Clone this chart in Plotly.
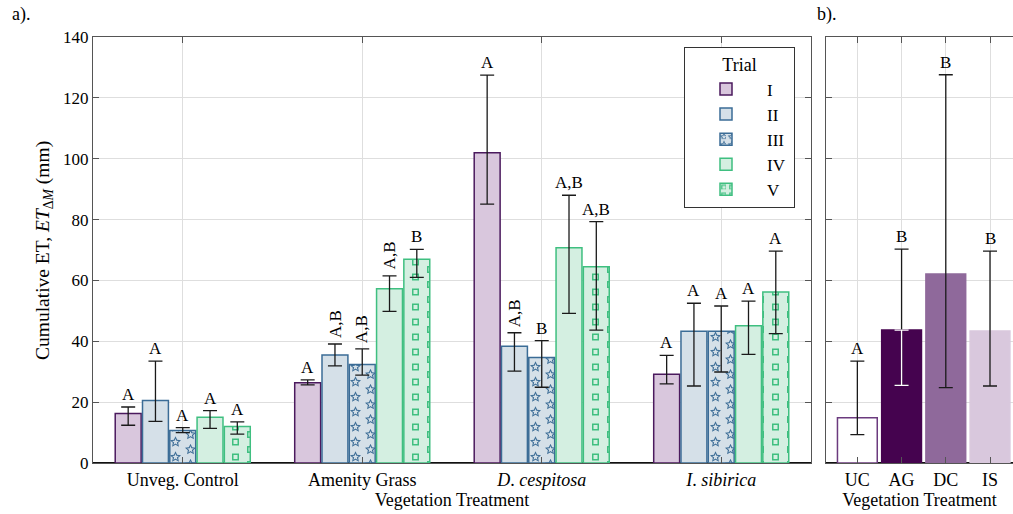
import math
import plotly.graph_objects as go

# ---------------- data ----------------
categories = ["Unveg. Control", "Amenity Grass", "<i>D</i>. <i>cespitosa</i>", "<i>I</i>. <i>sibirica</i>"]
trials = ["I", "II", "III", "IV", "V"]

mean_I = [16.3, 26.4, 102.0, 29.2]
mean_II = [20.5, 35.5, 38.4, 43.3]
mean_III = [10.7, 32.4, 34.7, 43.3]
mean_IV = [15.0, 57.3, 70.7, 45.1]
mean_V = [12.0, 67.0, 64.5, 56.2]

upper_I = [18.4, 27.3, 127.5, 35.4]
upper_II = [33.5, 39.1, 42.8, 52.5]
upper_III = [11.6, 37.5, 40.2, 51.6]
upper_IV = [17.2, 61.5, 88.0, 53.2]
upper_V = [13.5, 70.2, 79.3, 69.6]

lower_I = [12.4, 25.7, 85.1, 26.0]
lower_II = [13.7, 31.9, 30.2, 25.3]
lower_III = [10.0, 28.9, 24.9, 29.9]
lower_IV = [11.4, 49.8, 49.2, 35.7]
lower_V = [9.5, 61.0, 43.7, 42.5]

letters_I = ["A", "A", "A", "A"]
letters_II = ["A", "A,B", "A,B", "A"]
letters_III = ["A", "A,B", "B", "A"]
letters_IV = ["A", "A,B", "A,B", "A"]
letters_V = ["A", "B", "A,B", "A"]

rot_I = [0, 0, 0, 0]
rot_II = [0, 1, 1, 0]
rot_III = [0, 1, 0, 0]
rot_IV = [0, 1, 0, 0]
rot_V = [0, 0, 0, 0]

b_categories = ["UC", "AG", "DC", "IS"]
b_mean = [14.9, 43.7, 62.1, 43.4]
b_upper = [33.5, 70.3, 127.6, 69.6]
b_lower = [9.3, 25.5, 24.8, 25.3]
b_letters = ["A", "B", "B", "B"]

means = [mean_I, mean_II, mean_III, mean_IV, mean_V]
uppers = [upper_I, upper_II, upper_III, upper_IV, upper_V]
lowers = [lower_I, lower_II, lower_III, lower_IV, lower_V]
letters = [letters_I, letters_II, letters_III, letters_IV, letters_V]
rots = [rot_I, rot_II, rot_III, rot_IV, rot_V]

# ---------------- style ----------------
FONT = "Liberation Serif"
fills = ["#d9c7dd", "#d5e0e8", "#d5e0e8", "#d4efe1", "#d4efe1"]
lines = ["#4b1a5e", "#3b6c96", "#3b6c96", "#3fbf80", "#3fbf80"]
b_fills = ["#ffffff", "#45034f", "#8f699b", "#d9c8dd"]
b_lines = ["#6b3a7e", "#45034f", "#8f699b", "#d9c8dd"]


def star(cx, cy, R, r, rev=False):
    pts = []
    for i in range(10):
        ang = -math.pi / 2 + i * math.pi / 5
        rad = R if i % 2 == 0 else r
        pts.append((cx + rad * math.cos(ang), cy + rad * math.sin(ang)))
    if rev:
        pts = pts[::-1]
    return "M" + "L".join(f"{x:.2f},{y:.2f}" for x, y in pts) + "Z"


def square(cx, cy, h, rev=False):
    pts = [(cx - h, cy - h), (cx + h, cy - h), (cx + h, cy + h), (cx - h, cy + h)]
    if rev:
        pts = pts[::-1]
    return "M" + "L".join(f"{x:.2f},{y:.2f}" for x, y in pts) + "Z"


has_path = True
try:
    go.bar.marker.Pattern(path="M0,0L1,1Z")
except Exception:
    has_path = False

TILE = 30
lattice = [(7.5, 7.5), (7.5, 22.5), (22.5, 0), (22.5, 15), (22.5, 30)]
star_path = "".join(star(cx, cy, 5.8, 2.8) + star(cx, cy, 3.6, 1.4, rev=True) for cx, cy in lattice)
sq_path = "".join(square(cx, cy, 3.5) + square(cx, cy, 2.0, rev=True) for cx, cy in lattice)


def pattern_for(k):
    if k == 2:
        if has_path:
            return dict(path=star_path, size=TILE, fgcolor=lines[k], fillmode="overlay", fgopacity=1)
        return dict(shape="x", size=8, fgcolor=lines[k], fillmode="overlay", solidity=0.2)
    if k == 4:
        if has_path:
            return dict(path=sq_path, size=TILE, fgcolor=lines[k], fillmode="overlay", fgopacity=1)
        return dict(shape=".", size=8, fgcolor=lines[k], fillmode="overlay", solidity=0.4)
    return None


BARGAP = 0.24
GROUPGAP = 0.05
xs = list(range(len(categories)))
legend_names = ["I", "II", "III\u00a0", "IV", "V"]

fig = go.Figure()
for k, t in enumerate(trials):
    marker = dict(color=fills[k], line=dict(color=lines[k], width=1.5))
    p = pattern_for(k)
    if p:
        marker["pattern"] = p
    fig.add_trace(go.Bar(
        x=xs, y=means[k], name=legend_names[k], marker=marker, xaxis="x", yaxis="y",
        legendgroup=t,
        error_y=dict(type="data", symmetric=False,
                     array=[u - m for u, m in zip(uppers[k], means[k])],
                     arrayminus=[m - l for m, l in zip(means[k], lowers[k])],
                     color="#1a1a1a", thickness=1.3, width=7),
    ))

fig.add_trace(go.Bar(
    x=b_categories, y=b_mean, xaxis="x2", yaxis="y2", width=0.9, showlegend=False,
    marker=dict(color=b_fills, line=dict(color=b_lines, width=1.5)),
    error_y=dict(type="data", symmetric=False,
                 array=[u - m for u, m in zip(b_upper, b_mean)],
                 arrayminus=[m - l for m, l in zip(b_mean, b_lower)],
                 color="#1a1a1a", thickness=1.3, width=7),
))
# white lower whisker inside the dark bar (AG)
fig.add_trace(go.Scatter(
    x=[b_categories[1]], y=[b_mean[1]], xaxis="x2", yaxis="y2", mode="markers",
    marker=dict(size=1, color="rgba(0,0,0,0)"), showlegend=False, hoverinfo="skip",
    error_y=dict(type="data", symmetric=False, array=[0],
                 arrayminus=[b_mean[1] - b_lower[1]], color="#ffffff", thickness=1.3, width=7),
))

annotations = []
slot = (1 - BARGAP) / len(trials)
for k in range(len(trials)):
    off = (k - (len(trials) - 1) / 2) * slot
    for i in range(len(categories)):
        a = dict(x=xs[i] + off, y=uppers[k][i], xref="x", yref="y", text=letters[k][i],
                 showarrow=False, yanchor="bottom", xanchor="center",
                 font=dict(family=FONT, size=17, color="black"))
        if rots[k][i]:
            a.update(textangle=-90, yshift=4)
        else:
            a.update(yshift=1)
        annotations.append(a)
for i, c in enumerate(b_categories):
    annotations.append(dict(x=c, y=b_upper[i], xref="x2", yref="y2", text=b_letters[i],
                            showarrow=False, yanchor="bottom", yshift=1,
                            font=dict(family=FONT, size=17, color="black")))

annotations.append(dict(x=-0.09, y=1.052, xref="paper", yref="paper", text="a).",
                        showarrow=False, xanchor="left", yanchor="middle",
                        font=dict(family=FONT, size=18, color="black")))
annotations.append(dict(x=0.7848, y=1.052, xref="paper", yref="paper", text="b).",
                        showarrow=False, xanchor="left", yanchor="middle",
                        font=dict(family=FONT, size=18, color="black")))
# y-axis title
annotations.append(dict(x=(44 - 93) / 920, y=(463 - 251) / 426, xref="paper", yref="paper",
                        text="Cumulative ET, <i>ET</i><sub>Δ<i>M</i></sub> (mm)",
                        textangle=-90, showarrow=False, xanchor="center", yanchor="middle",
                        font=dict(family=FONT, size=19.5, color="black")))

axis_common = dict(showline=True, linecolor="#555555", linewidth=1, ticks="inside",
                   ticklen=6, tickcolor="#555555", showgrid=True, gridcolor="#dedede",
                   gridwidth=1)
xtickfont = dict(family=FONT, size=18, color="black")
ytickfont = dict(family=FONT, size=17, color="black")

fig.update_layout(
    width=1013, height=514,
    margin=dict(l=93, r=0, t=37, b=51),
    paper_bgcolor="white", plot_bgcolor="white",
    font=dict(family=FONT, size=18, color="black"),
    barmode="group", bargap=BARGAP, bargroupgap=GROUPGAP,
    xaxis=dict(domain=[0, 0.7804], range=[-0.5, 3.5], tickvals=xs, ticktext=categories,
               mirror="ticks", anchor="y", zeroline=False, tickfont=xtickfont,
               title=dict(text="Vegetation Treatment", standoff=1, font=dict(family=FONT, size=18)),
               **axis_common),
    yaxis=dict(range=[0, 140], dtick=20, mirror="ticks", anchor="x", tickfont=ytickfont,
               zeroline=True, zerolinecolor="#111111", zerolinewidth=2,
               **axis_common),
    xaxis2=dict(domain=[0.7967, 1.0], type="category", range=[-0.71, 3.52], anchor="y2",
                mirror="ticks", zeroline=False, tickfont=xtickfont,
                title=dict(text="Vegetation Treatment", standoff=1, font=dict(family=FONT, size=18)),
                **axis_common),
    yaxis2=dict(range=[0, 140], dtick=20, anchor="x2", showticklabels=False,
                zeroline=True, zerolinecolor="#111111", zerolinewidth=2, **axis_common),
    legend=dict(x=(684 - 93) / 920, y=(463 - 47) / 426, xanchor="left", yanchor="top",
                bgcolor="white", bordercolor="#333333", borderwidth=1, itemwidth=72,
                title=dict(text="Trial", side="top center", font=dict(family=FONT, size=18)),
                font=dict(family=FONT, size=17, color="black"), tracegroupgap=0),
    annotations=annotations,
    showlegend=True,
)

fig.write_html("out.html")
